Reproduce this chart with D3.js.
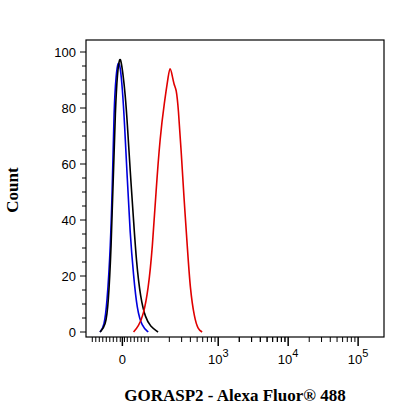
<!DOCTYPE html><html><head><script src="https://cdn.jsdelivr.net/npm/d3@7"></script>
<style>body{margin:0;background:#fff}</style></head><body><svg id="c" width="416" height="416"></svg>
<script>
const blackX=[1.31,1.39,1.43,1.47,1.50,1.53,1.56,1.59,1.61,1.64,1.67,1.70,1.74,1.79,1.83,1.89,1.96,2.03,2.14];
const blackY=[0,2,10,30,55,80,93,98,97,92,85,75,58,40,25,12,5,2,0];
const blueX=[1.31,1.37,1.41,1.46,1.49,1.51,1.54,1.57,1.60,1.63,1.66,1.70,1.74,1.79,1.84,1.91,2.00];
const blueY=[0,2,10,30,55,80,92,97,95,87,75,55,35,20,8,2,0];
const redX=[1.79,1.86,1.93,2.00,2.06,2.11,2.17,2.23,2.29,2.31,2.34,2.37,2.40,2.43,2.47,2.51,2.56,2.60,2.66,2.71,2.77];
const redY=[0,2,6,15,30,50,70,82,92,95,92,88,87,80,65,48,30,15,5,1,0];
const yTicks=[0,20,40,60,80,100];
const xTickPos=[1.63,3,4,5];
const xTickLabels=["0","10^3","10^4","10^5"];
const svg=d3.select("#c");
const L=86,R=384,T=40,B=337;
const x=d3.scaleLinear().domain([1.11,5.37]).range([L,R]);
const y=d3.scaleLinear().domain([0,100]).range([332,52]);
svg.append("rect").attr("x",L).attr("y",T).attr("width",R-L).attr("height",B-T).attr("fill","none").attr("stroke","#000").attr("stroke-width",1.2);
// y ticks
const g=svg.append("g");
d3.range(0,101,5).forEach(v=>{const major=v%20===0;g.append("line").attr("x1",L-(major?6:4)).attr("x2",L).attr("y1",y(v)).attr("y2",y(v)).attr("stroke","#000");});
yTicks.forEach(v=>g.append("text").attr("x",L-10).attr("y",y(v)+5).attr("text-anchor","end").attr("font-family","Arial, Liberation Sans").attr("font-size",13).text(v));
// x ticks
const minor=[];
[1.2,1.25,1.3,1.35,1.4,1.45,1.5,1.55,1.6,1.66,1.7,1.75,1.8,1.85,1.9,1.95].forEach(v=>minor.push(v));
[2,3].forEach(k=>d3.range(2,10).forEach(m=>minor.push(k+Math.log10(m))));
[3,4].forEach(k=>d3.range(2,10).forEach(m=>minor.push(k+Math.log10(m))));
minor.push(2);
minor.forEach(v=>g.append("line").attr("x1",x(v)).attr("x2",x(v)).attr("y1",B).attr("y2",B+5).attr("stroke","#000"));
xTickPos.forEach(v=>g.append("line").attr("x1",x(v)).attr("x2",x(v)).attr("y1",B).attr("y2",B+9).attr("stroke","#000").attr("stroke-width",1.5));
xTickPos.forEach((v,i)=>{const lab=xTickLabels[i];const t=g.append("text").attr("x",x(v)).attr("y",364).attr("text-anchor","middle").attr("font-family","Arial, Liberation Sans").attr("font-size",13);
 if(lab.includes("^")){const [b,e]=lab.split("^");t.append("tspan").text(b);t.append("tspan").attr("dy",-7).attr("font-size",11).text(e);} else t.text(lab);});
const line=d3.line().x(d=>x(d[0])).y(d=>y(d[1])).curve(d3.curveBasis);
[[blueX,blueY,"#0000dd"],[blackX,blackY,"#000"],[redX,redY,"#e00000"]].forEach(([xs,ys,c])=>{
 svg.append("path").attr("d",line(xs.map((v,i)=>[v,ys[i]]))).attr("fill","none").attr("stroke",c).attr("stroke-width",1.6);});
svg.append("text").attr("transform","translate(18,190) rotate(-90)").attr("text-anchor","middle").attr("font-family","Liberation Serif, Times New Roman").attr("font-weight","bold").attr("font-size",17).text("Count");
svg.append("text").attr("x",235).attr("y",401).attr("text-anchor","middle").attr("font-family","Liberation Serif, Times New Roman").attr("font-weight","bold").attr("font-size",17).text("GORASP2 - Alexa Fluor® 488");
</script></body></html>
